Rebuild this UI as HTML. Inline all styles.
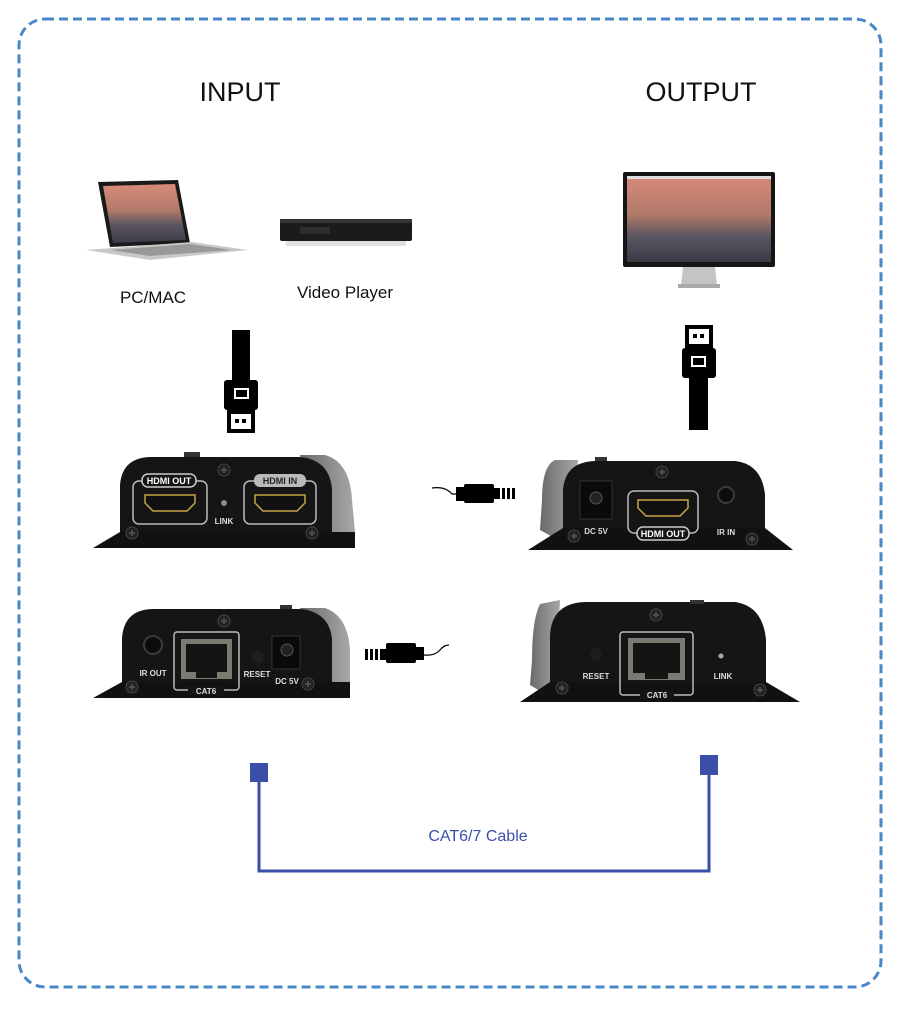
<!DOCTYPE html>
<html><head><meta charset="utf-8"><style>
html,body{margin:0;padding:0;background:#fff;}
svg{display:block;}
text{font-family:"Liberation Sans",sans-serif;}
</style></head><body>
<svg width="900" height="1011" viewBox="0 0 900 1011" xmlns="http://www.w3.org/2000/svg">
<defs>
<linearGradient id="scr" x1="0" y1="0" x2="0" y2="1">
<stop offset="0" stop-color="#d98a7a"/><stop offset="0.45" stop-color="#b07a6a"/><stop offset="0.7" stop-color="#5a5560"/><stop offset="1" stop-color="#3a3c48"/></linearGradient>
<linearGradient id="side" x1="0" y1="0" x2="1" y2="0"><stop offset="0" stop-color="#6a6a6a"/><stop offset="1" stop-color="#a8a8a8"/></linearGradient>
<g id="hdmiport"><path d="M0,0 h50 v8 l-8,8 h-34 l-8,-8z" fill="#111" stroke="#c9a24a" stroke-width="1.5"/></g>
<g id="screw"><circle r="6" fill="#222" stroke="#444"/><path d="M-3,0h6M0,-3v6" stroke="#555" stroke-width="1.5"/></g>
</defs>
<rect x="19" y="19" width="862" height="968" rx="26" fill="none" stroke="#4a86c8" stroke-width="3" stroke-dasharray="9 5"/>

<text x="240" y="101" font-size="27" text-anchor="middle" fill="#111">INPUT</text>
<text x="701" y="101" font-size="27" text-anchor="middle" fill="#111">OUTPUT</text>

<!-- laptop -->
<path d="M98,182 L178,180 L190,243 L110,247z" fill="#1a1a1a"/>
<path d="M103,186 L175,184 L186,240 L113,243z" fill="url(#scr)"/>
<path d="M86,250 L192,242 L248,250 L150,260z" fill="#c8c8c8"/>
<path d="M110,250 L190,244 L232,250 L150,256z" fill="#999"/>
<!-- video player -->
<rect x="280" y="219" width="132" height="22" rx="2" fill="#1b1b1b"/>
<rect x="280" y="219" width="132" height="4" fill="#333"/>
<rect x="300" y="227" width="30" height="7" fill="#2e2e2e"/>
<rect x="286" y="241" width="120" height="5" fill="#ccc" opacity="0.6"/>
<text x="153" y="303" font-size="17" text-anchor="middle" fill="#111">PC/MAC</text>
<text x="345" y="298" font-size="17" text-anchor="middle" fill="#111">Video Player</text>

<!-- monitor -->
<rect x="623" y="172" width="152" height="95" rx="2" fill="#151515"/>
<rect x="627" y="176" width="144" height="86" fill="url(#scr)"/>
<rect x="627" y="176" width="144" height="3" fill="#ddd"/>
<path d="M683,267 h32 l2,18 h-36z" fill="#c4c4c4"/>
<rect x="678" y="284" width="42" height="4" fill="#aaa"/>

<!-- HDMI cable left -->
<rect x="232" y="330" width="18" height="55" fill="#000"/>
<rect x="224" y="380" width="34" height="30" rx="3" fill="#000"/>
<rect x="234" y="388" width="15" height="11" fill="#fff"/><rect x="236" y="390" width="11" height="7" fill="#000"/>
<rect x="227" y="410" width="28" height="23" fill="#000"/>
<rect x="231" y="414" width="20" height="15" fill="#fff"/>
<rect x="235" y="419" width="4" height="4" fill="#000"/><rect x="242" y="419" width="4" height="4" fill="#000"/>
<!-- HDMI cable right -->
<rect x="685" y="325" width="28" height="23" fill="#000"/>
<rect x="689" y="329" width="20" height="15" fill="#fff"/>
<rect x="693" y="334" width="4" height="4" fill="#000"/><rect x="700" y="334" width="4" height="4" fill="#000"/>
<rect x="682" y="348" width="34" height="30" rx="3" fill="#000"/>
<rect x="691" y="356" width="15" height="11" fill="#fff"/><rect x="693" y="358" width="11" height="7" fill="#000"/>
<rect x="689" y="375" width="19" height="55" fill="#000"/>

<!-- Device 1 input front -->
<path d="M300,455 L325,455 Q350,462 352,500 L355,532 L318,545z" fill="url(#side)"/>
<path d="M120,545 L120,485 Q122,458 150,457 L300,457 Q330,460 332,490 L332,545z" fill="#151515"/>
<path d="M93,548 L120,532 L332,532 L355,532 L355,548z" fill="#111"/>
<rect x="184" y="452" width="16" height="5" fill="#333"/>
<rect x="133" y="481" width="74" height="43" rx="6" fill="none" stroke="#bbb" stroke-width="1.5"/>
<rect x="142" y="474" width="54" height="13" rx="6" fill="#151515" stroke="#ccc" stroke-width="1.5"/>
<text x="169" y="484" font-size="9" font-weight="bold" fill="#fff" text-anchor="middle">HDMI OUT</text>
<use href="#hdmiport" x="145" y="495"/>
<rect x="244" y="481" width="72" height="43" rx="6" fill="none" stroke="#bbb" stroke-width="1.5"/>
<rect x="254" y="474" width="52" height="13" rx="6" fill="#bbb"/>
<text x="280" y="484" font-size="9" font-weight="bold" fill="#222" text-anchor="middle">HDMI IN</text>
<use href="#hdmiport" x="255" y="495"/>
<circle cx="224" cy="503" r="3" fill="#888"/>
<text x="224" y="524" font-size="8" font-weight="bold" fill="#ddd" text-anchor="middle">LINK</text>
<use href="#screw" x="224" y="470"/><use href="#screw" x="132" y="533"/><use href="#screw" x="312" y="533"/>

<!-- plug 1 -->
<path d="M432,488 Q445,486 452,494 L460,494" stroke="#000" stroke-width="1.2" fill="none"/>
<rect x="456" y="487" width="8" height="14" fill="#000"/>
<rect x="464" y="484" width="30" height="19" rx="2" fill="#000"/>
<rect x="494" y="488" width="6" height="11" fill="#000"/><rect x="502" y="488" width="3" height="11" fill="#000"/><rect x="507" y="488" width="3" height="11" fill="#000"/><rect x="512" y="488" width="3" height="11" fill="#000"/>

<!-- Device 2 input back -->
<path d="M300,608 L325,608 Q348,616 350,650 L350,685 L318,695z" fill="url(#side)"/>
<path d="M122,695 L122,638 Q124,610 152,609 L300,609 Q330,612 332,640 L332,695z" fill="#151515"/>
<path d="M93,698 L122,682 L350,682 L350,698z" fill="#111"/>
<rect x="280" y="605" width="12" height="4" fill="#333"/>
<circle cx="153" cy="645" r="9" fill="#0c0c0c" stroke="#3a3a3a" stroke-width="2"/>
<text x="153" y="676" font-size="8" font-weight="bold" fill="#ddd" text-anchor="middle">IR OUT</text>
<rect x="174" y="632" width="65" height="58" rx="3" fill="none" stroke="#bbb" stroke-width="1.5"/>
<rect x="181" y="639" width="51" height="40" fill="#7a7a72"/>
<rect x="186" y="644" width="41" height="28" fill="#141414"/>
<rect x="196" y="672" width="21" height="6" fill="#141414"/>
<rect x="188" y="686" width="36" height="9" fill="#151515"/>
<text x="206" y="694" font-size="8" font-weight="bold" fill="#ddd" text-anchor="middle">CAT6</text>
<circle cx="258" cy="657" r="6" fill="#1e1e1e"/>
<text x="257" y="677" font-size="8" font-weight="bold" fill="#ddd" text-anchor="middle">RESET</text>
<rect x="272" y="636" width="28" height="33" fill="#0a0a0a" stroke="#333"/>
<circle cx="287" cy="650" r="6" fill="#222" stroke="#555"/>
<text x="287" y="684" font-size="8" font-weight="bold" fill="#ddd" text-anchor="middle">DC 5V</text>
<use href="#screw" x="132" y="687"/><use href="#screw" x="224" y="621"/><use href="#screw" x="308" y="684"/>

<!-- plug 2 -->
<rect x="365" y="649" width="3" height="11" fill="#000"/><rect x="370" y="649" width="3" height="11" fill="#000"/><rect x="375" y="649" width="3" height="11" fill="#000"/><rect x="380" y="649" width="6" height="11" fill="#000"/>
<rect x="386" y="643" width="30" height="20" rx="2" fill="#000"/>
<rect x="416" y="647" width="8" height="13" fill="#000"/>
<path d="M424,655 Q435,656 440,650 Q444,645 449,645" stroke="#000" stroke-width="1.2" fill="none"/>

<!-- Device 3 output front -->
<path d="M578,460 L555,460 Q542,466 542,500 L540,530 L572,548z" fill="url(#side)"/>
<path d="M563,550 L563,490 Q565,462 595,461 L735,461 Q762,464 765,495 L765,550z" fill="#151515"/>
<path d="M528,550 L563,528 L765,528 L793,550z" fill="#111"/>
<rect x="595" y="457" width="12" height="4" fill="#333"/>
<rect x="580" y="481" width="32" height="38" fill="#0a0a0a" stroke="#333"/>
<circle cx="596" cy="498" r="6" fill="#222" stroke="#555"/>
<text x="596" y="534" font-size="8" font-weight="bold" fill="#ddd" text-anchor="middle">DC 5V</text>
<rect x="628" y="491" width="70" height="42" rx="6" fill="none" stroke="#bbb" stroke-width="1.5"/>
<use href="#hdmiport" x="638" y="500"/>
<rect x="637" y="527" width="52" height="13" rx="6" fill="#151515" stroke="#ccc" stroke-width="1.5"/>
<text x="663" y="537" font-size="9" font-weight="bold" fill="#fff" text-anchor="middle">HDMI OUT</text>
<circle cx="726" cy="495" r="8" fill="#0c0c0c" stroke="#3a3a3a" stroke-width="2"/>
<text x="726" y="535" font-size="8" font-weight="bold" fill="#ddd" text-anchor="middle">IR IN</text>
<use href="#screw" x="662" y="472"/><use href="#screw" x="574" y="536"/><use href="#screw" x="752" y="539"/>

<!-- Device 4 output back -->
<path d="M560,600 L540,604 Q532,620 532,660 L530,685 L555,700z" fill="url(#side)"/>
<path d="M550,698 L550,635 Q552,603 585,602 L735,602 Q763,606 766,640 L766,698z" fill="#151515"/>
<path d="M520,702 L550,682 L766,682 L800,702z" fill="#111"/>
<rect x="690" y="600" width="14" height="4" fill="#333"/>
<circle cx="596" cy="654" r="6" fill="#1e1e1e"/>
<text x="596" y="679" font-size="8" font-weight="bold" fill="#ddd" text-anchor="middle">RESET</text>
<rect x="620" y="632" width="73" height="63" rx="3" fill="none" stroke="#bbb" stroke-width="1.5"/>
<rect x="628" y="638" width="57" height="42" fill="#7a7a72"/>
<rect x="633" y="643" width="47" height="30" fill="#141414"/>
<rect x="645" y="673" width="23" height="6" fill="#141414"/>
<rect x="640" y="690" width="34" height="9" fill="#151515"/>
<text x="657" y="698" font-size="8" font-weight="bold" fill="#ddd" text-anchor="middle">CAT6</text>
<circle cx="721" cy="656" r="2.5" fill="#aaa"/>
<text x="723" y="679" font-size="8" font-weight="bold" fill="#ddd" text-anchor="middle">LINK</text>
<use href="#screw" x="656" y="615"/><use href="#screw" x="562" y="688"/><use href="#screw" x="760" y="690"/>

<!-- CAT cable -->
<rect x="250" y="763" width="18" height="19" fill="#3b4fa8"/>
<rect x="700" y="755" width="18" height="20" fill="#3b4fa8"/>
<path d="M259,782 V871 H709 V775" fill="none" stroke="#3b4fa8" stroke-width="3"/>
<text x="478" y="841" font-size="16" text-anchor="middle" fill="#3b4fa8">CAT6/7 Cable</text>
</svg>
</body></html>
